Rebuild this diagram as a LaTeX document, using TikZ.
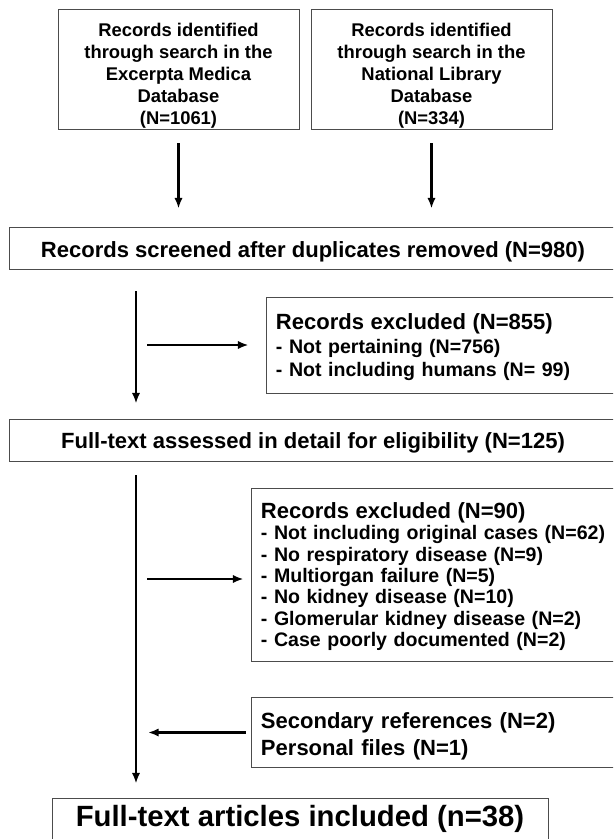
\documentclass[tikz,border=0pt]{standalone}
\usepackage{fontspec}
\setmainfont{Liberation Sans}
\usetikzlibrary{arrows.meta,calc}
\newcommand{\liftline}[1]{\rule{0pt}{#1}}

\begin{document}
\begin{tikzpicture}[x=0.03cm,y=-0.03cm,
	box/.style={draw=black!70,line width=0.8pt,inner sep=0pt,font=\bfseries},
	srcbox/.style={box,align=center,minimum width=7.23cm,minimum height=3.6cm,
		font=\fontsize{15.7}{18.8}\selectfont\bfseries},
	widebox/.style={box,minimum width=18.24cm,minimum height=1.26cm,
		font=\fontsize{18.8}{22}\selectfont\bfseries},
	sidebox/.style={box,align=left,inner xsep=0.3cm,text width=11.4cm},
	arr/.style={line width=2pt,-{Latex[length=3.2mm,width=2.5mm]}}]
	\useasboundingbox (0,0) rectangle (613,839);
	\clip (0,0) rectangle (613,839);
	\coordinate (spine) at (136,0);
	
	\node[srcbox] (emb) at (178.5,69) {\liftline{23.5pt}Records identified\\through search in the\\Excerpta Medica\\Database\\(N=1061)};
	\node[srcbox] (nlm) at (431.5,69) {\liftline{23.5pt}Records identified\\through search in the\\National Library\\Database\\(N=334)};
	\node[widebox] (scr) at (313,248) {\liftline{20.5pt}Records screened after duplicates removed (N=980)};
	\node[sidebox,minimum width=12cm,minimum height=2.88cm,
		font=\fontsize{16.7}{19.6}\selectfont\bfseries] (exa) at (466,345)
		{{\fontsize{18.8}{19.6}\selectfont\liftline{17.7pt}Records excluded (N=855)}\\[1pt]
		- Not pertaining (N=756)\\
		- Not including humans (N= 99)};
	\node[widebox] (full) at (313,440) {\liftline{18.9pt}Full-text assessed in detail for eligibility (N=125)};
	\node[sidebox,minimum width=12cm,minimum height=5.19cm,
		font=\fontsize{16.7}{18.3}\selectfont\bfseries] (exb) at (451,574.5)
		{{\fontsize{18.8}{18.3}\selectfont\liftline{17.1pt}Records excluded (N=90)}\\
		- Not including original cases (N=62)\\
		- No respiratory disease (N=9)\\
		- Multiorgan failure (N=5)\\
		- No kidney disease (N=10)\\
		- Glomerular kidney disease (N=2)\\
		- Case poorly documented (N=2)};
	\node[sidebox,minimum width=12cm,minimum height=2.1cm,
		font=\fontsize{18.8}{22.8}\selectfont\bfseries] (sec) at (451,732.5)
		{\liftline{19.7pt}Secondary references (N=2)\\Personal files (N=1)};
	\node[box,minimum width=14.88cm,minimum height=1.26cm,
		font=\fontsize{25}{30}\selectfont\bfseries] (inc) at (300,819) {Full-text articles included (n=38)};
	
	\draw[arr,shorten <=0.42cm,shorten >=0.54cm] (emb.south) -- (emb.south |- scr.north);
	\draw[arr,shorten <=0.42cm,shorten >=0.54cm] (nlm.south) -- (nlm.south |- scr.north);
	\draw[arr,shorten <=0.66cm,shorten >=0.45cm] (scr.south -| spine) -- (full.north -| spine);
	\draw[arr,shorten <=0.33cm,shorten >=0.51cm] (exa.west -| spine) -- (exa.west);
	\draw[arr,shorten <=0.42cm,shorten >=0.42cm] (full.south -| spine) -- (inc.north -| spine);
	\draw[arr,shorten <=0.33cm,shorten >=0.21cm] ([yshift=-0.135cm]exb.west -| spine) -- ([yshift=-0.135cm]exb.west);
	\draw[arr,shorten <=0.15cm,shorten >=0.36cm] (sec.west) -- (sec.west -| spine);
\end{tikzpicture}
\end{document}
